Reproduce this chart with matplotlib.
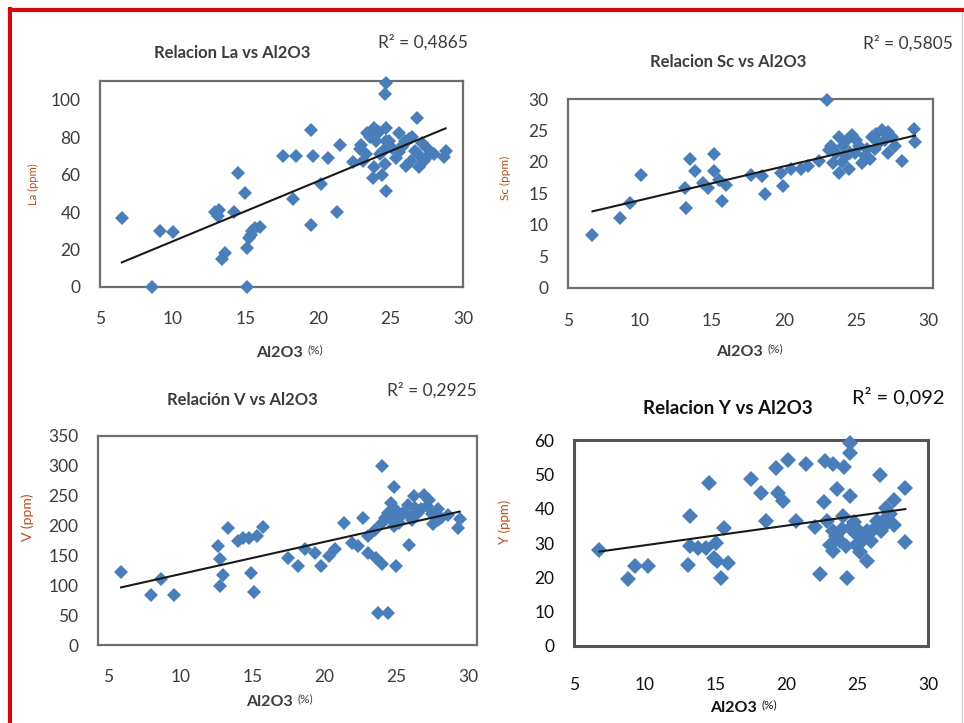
import numpy as np
import matplotlib
matplotlib.use("Agg")
import matplotlib.pyplot as plt
from matplotlib.lines import Line2D

plt.rcParams['font.family'] = ['Lato', 'DejaVu Sans']

# ---- data: Al2O3 (%) against trace elements (ppm) ----
al2o3_la = [6.5, 8.6, 9.1, 10.0, 12.9, 13.1, 13.2, 13.4, 13.6, 14.2, 14.5, 15.0, 15.1, 15.1,
            15.25, 15.4, 15.5, 15.7, 16.0, 17.6, 18.3, 18.5, 19.5, 19.5, 19.7, 20.2, 20.7, 21.3,
            21.5, 22.4, 22.9, 23.1, 23.3, 23.4, 23.8, 23.9, 23.9, 24.0, 24.4, 24.5, 24.6, 24.7,
            24.6, 24.7, 24.7, 24.7, 25.4, 25.6, 25.8, 26.0, 26.1, 26.4, 26.7, 26.8, 26.9, 27.0,
            27.2, 27.3, 28.0, 28.7, 28.8,
            23.6, 24.2, 24.9, 25.1, 25.9, 26.3, 27.5, 23.0, 24.3, 25.6, 27.6, 26.5]
la_ppm = [37, 0, 30, 29.5, 40, 38, 41, 15, 18, 40, 61, 50, 0, 21,
          26, 28, 30, 31.5, 32, 70, 47, 70, 84, 33, 70, 55, 69, 40,
          76, 66.5, 73.5, 67.5, 71, 82, 58, 85, 64, 78, 60, 72.5, 65.5, 109,
          103, 85, 51, 78, 69, 82, 74.5, 78, 64.5, 67.5, 72.5, 90, 71, 64,
          77, 67.5, 71, 69.5, 72.5,
          80, 83, 78, 74, 76, 79, 74, 76, 71, 72, 70, 80]

al2o3_sc = [6.7, 8.6, 9.3, 10.1, 13.1, 13.2, 13.5, 13.8, 14.35, 14.7, 15.15, 15.15, 15.5, 15.7,
            16.0, 17.7, 18.5, 18.7, 19.8, 19.9, 20.5, 21.2, 21.7, 22.4, 23.0, 23.1, 23.4, 23.6,
            23.8, 23.8, 24.1, 24.3, 24.5, 24.7, 24.9, 25.2, 25.4, 25.6, 26.1, 26.3, 26.6, 26.8,
            27.2, 27.5, 27.7, 28.2, 29.0, 29.1,
            24.0, 24.6, 25.0, 25.8, 26.4, 27.0, 27.2, 24.4, 23.3, 26.0]
sc_ppm = [8.4, 11.1, 13.5, 17.9, 15.9, 12.7, 20.5, 18.6, 16.7, 15.9, 21.3, 18.5, 17.2, 13.8,
          16.4, 17.9, 17.7, 14.9, 18.3, 16.2, 18.9, 18.9, 19.4, 20.1, 29.8, 21.9, 19.9, 21.5,
          24.0, 18.3, 22.5, 20.9, 18.9, 24.3, 21.5, 22.5, 19.9, 20.9, 24.0, 22.0, 23.0, 25.1,
          21.5, 24.0, 22.5, 20.1, 25.3, 23.2,
          20.0, 21.5, 23.5, 22.0, 24.5, 23.5, 24.8, 23.5, 22.5, 20.5]

al2o3_v = [5.9, 8.0, 8.7, 9.55, 12.6, 12.75, 12.95, 12.75, 13.3, 14.0, 14.35, 14.8, 14.9, 15.15,
           15.3, 15.75, 17.5, 18.2, 18.65, 19.35, 19.8, 20.3, 20.75, 21.4, 21.9, 22.35, 22.7, 23.05,
           23.05, 23.5, 23.6, 23.7, 24.0, 24.0, 24.0, 24.4, 24.4, 24.6, 24.85, 24.85, 25.0, 25.3,
           25.8, 25.9, 26.1, 26.2, 26.5, 26.9, 27.1, 27.3, 27.55, 27.9, 28.1, 28.6, 29.3, 29.4,
           24.2, 25.0, 25.5, 26.0, 26.7, 27.5, 25.2, 26.3, 27.9, 24.7]
v_ppm = [122, 83, 111, 83, 165, 144, 118, 99, 196, 174, 180, 180, 120, 88,
         182, 198, 146, 132, 160, 154, 132, 149, 160, 204, 171, 165, 213, 154,
         182, 193, 146, 54, 135, 300, 204, 54, 221, 238, 264, 199, 133, 216,
         235, 168, 210, 249, 221, 252, 232, 243, 202, 227, 213, 218, 196, 211,
         212, 226, 222, 215, 228, 220, 205, 230, 210, 210]

al2o3_y = [6.8, 8.8, 9.3, 10.2, 13.05, 13.2, 13.2, 13.75, 14.3, 14.55, 14.9, 15.0, 15.1, 15.4,
           15.6, 15.9, 17.5, 18.2, 18.55, 19.3, 19.4, 19.75, 20.1, 20.7, 21.4, 22.0, 22.4, 22.65,
           22.75, 22.9, 23.1, 23.3, 23.3, 23.3, 23.6, 23.8, 24.0, 24.1, 24.3, 24.5, 24.5, 24.5,
           24.5, 24.95, 24.95, 25.2, 25.7, 25.7, 26.0, 26.4, 26.6, 26.7, 27.0, 27.0, 27.6, 27.6,
           28.4, 28.4,
           23.5, 24.2, 24.8, 25.4, 26.2, 26.9, 25.1, 23.9, 27.3]
y_ppm = [28.1, 19.4, 23.2, 23.2, 23.7, 37.8, 29.0, 28.5, 28.5, 47.5, 25.7, 30.0, 24.7, 19.8,
         34.5, 24.2, 48.5, 44.6, 36.3, 51.9, 44.6, 42.2, 54.3, 36.3, 53.1, 34.8, 21.1, 41.9,
         53.9, 36.3, 29.5, 53.0, 33.4, 27.6, 45.6, 30.5, 37.8, 52.0, 19.8, 59.2, 56.2, 43.7,
         34.4, 32.5, 29.5, 27.3, 33.4, 24.9, 30.5, 36.3, 49.8, 33.4, 37.3, 40.2, 35.3, 42.6,
         46.0, 30.2,
         32.0, 29.0, 36.0, 31.0, 34.0, 35.0, 33.5, 34.0, 38.5]

titles = ["Relacion La vs Al2O3", "Relacion Sc vs Al2O3", "Relación V vs Al2O3", "Relacion Y vs Al2O3"]
r2_labels = ["R² = 0,4865", "R² = 0,5805", "R² = 0,2925", "R² = 0,092"]
y_labels = ["La (ppm)", "Sc (ppm)", "V (ppm)", "Y (ppm)"]
x_ticks = [5, 10, 15, 20, 25, 30]
y_ticks = [[0, 20, 40, 60, 80, 100], [0, 5, 10, 15, 20, 25, 30],
           [0, 50, 100, 150, 200, 250, 300, 350], [0, 10, 20, 30, 40, 50, 60]]

# ---- layout ----
W, H = 964, 723
fig = plt.figure(figsize=(W / 100, H / 100), dpi=100)
fig.patch.set_facecolor('white')


def fx(px):
    return px / W


def fy(py):
    return 1 - py / H


panels = [
    dict(x=al2o3_la, y=la_ppm, box=(100, 81, 463, 287), xlim=(5, 30), ylim=(0, 110),
         title_xy=(232, 53), title_fs=12, r2_xy=(378, 42), r2_fs=12.5,
         ylab_xy=(33, 184), ylab_fs=8, xlab_xy=(305, 353), xpad=17,
         ink='#3c3c3c', spine='#6e6e6e', spine_lw=1.6, ms=7.6),
    dict(x=al2o3_sc, y=sc_ppm, box=(568, 99, 933, 288), xlim=(5.05, 30.35), ylim=(0, 30),
         title_xy=(728, 62), title_fs=12, r2_xy=(863, 43), r2_fs=12.5,
         ylab_xy=(505, 178), ylab_fs=8.5, xlab_xy=(765, 352), xpad=18,
         ink='#3c3c3c', spine='#6e6e6e', spine_lw=1.6, ms=7.6),
    dict(x=al2o3_v, y=v_ppm, box=(98, 436, 477, 645), xlim=(4.3, 30.6), ylim=(0, 350),
         title_xy=(242, 400), title_fs=12, r2_xy=(387, 390), r2_fs=12.5,
         ylab_xy=(28, 517), ylab_fs=10, xlab_xy=(295, 702), xpad=17,
         ink='#3c3c3c', spine='#6e6e6e', spine_lw=1.6, ms=7.6),
    dict(x=al2o3_y, y=y_ppm, box=(574, 440, 928, 646), xlim=(5.28, 29.8), ylim=(0, 60),
         title_xy=(728, 408), title_fs=13.5, r2_xy=(852, 397), r2_fs=14.5,
         ylab_xy=(505, 522), ylab_fs=9.5, xlab_xy=(759, 708), xpad=22,
         ink='#111111', spine='#555555', spine_lw=2.2, ms=8.2),
]

marker_blue = '#4a7ebb'

for i, p in enumerate(panels):
    l, t, r, b = p['box']
    ax = fig.add_axes([fx(l), fy(b), (r - l) / W, (b - t) / H])
    xs = np.asarray(p['x'])
    ys = np.asarray(p['y'])
    ax.plot(xs, ys, linestyle='none', marker='D', ms=p['ms'], color=marker_blue,
            markeredgewidth=0, clip_on=False, zorder=3)
    # least-squares trend line across the data range
    k, c = np.polyfit(xs, ys, 1)
    xl = np.array([xs.min(), xs.max()])
    ax.plot(xl, k * xl + c, color='#1a1a1a', lw=1.5, zorder=4)

    ax.set_xlim(*p['xlim'])
    ax.set_ylim(*p['ylim'])
    ax.set_xticks(x_ticks)
    ax.set_yticks(y_ticks[i])
    ax.tick_params(axis='both', length=0, labelsize=12.5, colors=p['ink'])
    ax.tick_params(axis='y', pad=14)
    ax.tick_params(axis='x', pad=p['xpad'])
    for s in ax.spines.values():
        s.set_color(p['spine'])
        s.set_linewidth(p['spine_lw'])

    fig.text(fx(p['title_xy'][0]), fy(p['title_xy'][1]), titles[i], ha='center', va='center',
             fontsize=p['title_fs'], fontweight='bold', color=p['ink'])
    fig.text(fx(p['r2_xy'][0]), fy(p['r2_xy'][1]), r2_labels[i], ha='left', va='center',
             fontsize=p['r2_fs'], color=p['ink'])
    fig.text(fx(p['ylab_xy'][0]), fy(p['ylab_xy'][1]), y_labels[i], ha='center', va='center',
             rotation=90, fontsize=p['ylab_fs'], color='#b4501e')
    xlx, xly = p['xlab_xy']
    fig.text(fx(xlx - 2), fy(xly), "Al2O3", ha='right', va='center', fontsize=11.5,
             fontweight='bold', color=p['ink'])
    fig.text(fx(xlx + 3), fy(xly - 3), "(%)", ha='left', va='center', fontsize=8.5,
             color=p['ink'])

# red frame along the top and left edges
fig.add_artist(Line2D([fx(10), fx(10)], [fy(H + 2), fy(9)], color='#d20a0a', lw=3,
                      solid_capstyle='projecting'))
fig.add_artist(Line2D([fx(10), fx(W + 2)], [fy(9.5), fy(9.5)], color='#d20a0a', lw=3,
                      solid_capstyle='projecting'))
fig.add_artist(Line2D([fx(962), fx(962)], [fy(13), fy(H)], color='#c8c8c8', lw=0.8))

fig.savefig('out.png', dpi=100, facecolor='white')
